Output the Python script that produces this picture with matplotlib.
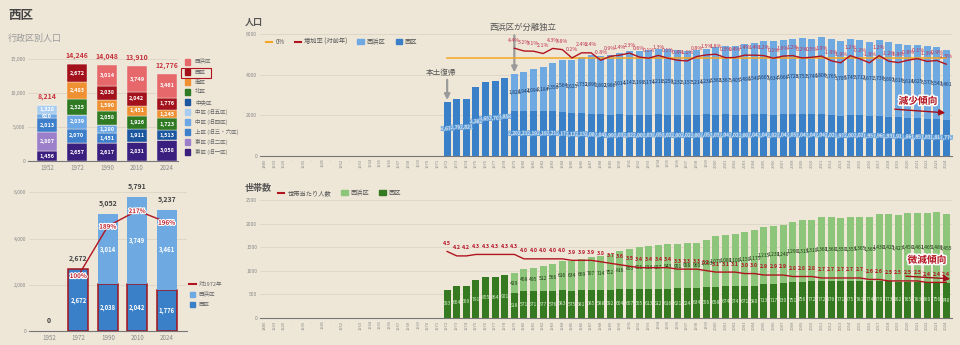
import numpy as np
import matplotlib.pyplot as plt
from matplotlib.lines import Line2D
from matplotlib.patches import Patch, Rectangle, FancyArrowPatch
import matplotlib.patheffects as pe

plt.rcParams['font.family'] = ['Noto Sans CJK JP', 'DejaVu Sans']

BG = '#eee7d8'
GRID = '#dcd5c6'
W, H = 960, 345

# ---------------- data: left charts ----------------
years_l = ['1952', '1972', '1990', '2010', '2024']
wards = ['東区 (旧一区)', '東区 (旧二区)', '上区 (旧三・六区)', '中区 (旧四区)', '中区 (旧五区)',
         '中央区', '北区', '南区', '西区', '西浜区']
pop_higashi1 = [1456, 2657, 2617, 2831, 3058]
pop_higashi2 = [2807, 0, 0, 0, 0]
pop_kami = [2013, 2070, 1451, 0, 0]
pop_naka4 = [610, 2039, 1280, 0, 0]
pop_naka5 = [1328, 0, 0, 0, 0]
pop_chuo = [0, 0, 0, 1911, 1513]
pop_kita = [0, 2325, 2058, 1926, 1723]
pop_minami = [0, 2483, 1590, 1451, 1245]
pop_nishi = [0, 2672, 2038, 2042, 1776]
pop_nishihama = [0, 0, 3014, 3749, 3461]
ratio_1972 = [100, 189, 217, 196]   # 1972, 1990, 2010, 2024

# ---------------- data: right charts ----------------
cats = ['1880', '1903', '1920', '~', '1935', '~', '1945', '~', '1952', '~'] + \
       [str(y) for y in range(1963, 2025)]
# 1972-2024
nishi_pop = [2672, 2792, 2821, 3382, 3658, 3703, 3858,
             2202, 2213, 2192, 2192, 2214, 2173, 2122, 2130, 2082, 2046, 1996,
             2038, 2027, 2000, 2030, 2056, 2027, 2003, 2020, 2004, 2059,
             2032, 2041, 2025, 2007, 2043, 2045, 2022, 2046, 2055, 2040,
             2042, 2043, 2025, 1975, 2003, 2025, 1957, 1966, 1935, 1911,
             1869, 1852, 1833, 1814, 1776]
# 1979-2024
nishihama_pop = [1826, 1944, 2094, 2184, 2350, 2564, 2625, 2731, 2896, 2892, 2986,
                 3014, 3141, 3199, 3174, 3216, 3250, 3232, 3157, 3214, 3238,
                 3360, 3367, 3405, 3499, 3540, 3605, 3634, 3666, 3726, 3753,
                 3749, 3806, 3765, 3705, 3745, 3712, 3671, 3730, 3693, 3616,
                 3614, 3625, 3573, 3543, 3461]
growth = [4.4, 3.2, 3.1, 2.1, 4.3, 3.8, 0.2, 2.4, 2.4, -0.8, 0.9,
          1.4, 2.3, 0.6, 0.1, 1.3, 0.1, -0.8, -1.1, 0.8, 1.5,
          1.8, 0.3, 0.4, 1.4, 1.4, 1.2, 0.1, 1.0, 1.2, 0.2,
          0.5, 1.0, -1.0, -1.9, 1.2, -0.2, -1.9, 1.2, -1.2, -1.8,
          -0.8, -0.1, -1.3, -0.9, -2.5]
# 1972-2024
nishi_hh = [593, 664, 669, 791, 855, 864, 901,
            518, 571, 571, 577, 576, 583, 575, 581, 585, 588, 592,
            604, 607, 605, 613, 612, 616, 621, 624, 634, 656,
            658, 674, 674, 671, 680, 713, 717, 730, 751, 756,
            772, 772, 776, 771, 775, 781, 774, 770, 773, 762,
            765, 763, 760, 756, 740]
# 1979-2024
nishihama_hh = [429, 468, 495, 512, 566, 616, 634, 669, 707, 714, 752,
                816, 855, 906, 913, 927, 943, 951, 958, 960, 1003,
                1070, 1080, 1100, 1150, 1175, 1215, 1230, 1240, 1290, 1315,
                1310, 1360, 1360, 1350, 1355, 1365, 1365, 1430, 1425, 1427,
                1450, 1461, 1465, 1480, 1455]
per_hh = [4.5, 4.2, 4.2, 4.3, 4.3, 4.3, 4.3,
          4.3, 4.0, 4.0, 4.0, 4.0, 4.0, 3.9, 3.9, 3.9, 3.8, 3.7,
          3.6, 3.5, 3.4, 3.4, 3.4, 3.4, 3.3, 3.3, 3.3, 3.2,
          3.1, 3.1, 3.1, 3.0, 3.0, 2.9, 2.9, 2.9, 2.8, 2.8,
          2.8, 2.7, 2.7, 2.7, 2.7, 2.7, 2.6, 2.6, 2.5, 2.5,
          2.5, 2.5, 2.4, 2.4, 2.4]

ward_colors = ['#3b1f7e', '#9b7fca', '#3d7fcb', '#6aa7e4', '#a9cdf0',
               '#1b56a0', '#2f7a22', '#ef9133', '#a3121c', '#e7686b']
BLUE_L, BLUE_D = '#6ea9e2', '#3a80c8'
GREEN_L, GREEN_D = '#8dc67b', '#357a20'
RED = '#b0141f'
ORANGE = '#f5a623'


def box(l, t, r, b):
    return [l / W, 1 - b / H, (r - l) / W, (b - t) / H]


def fp(x, y):
    return (x / W, 1 - y / H)


def style(ax):
    ax.set_facecolor('none')
    for s in ['top', 'right', 'left']:
        ax.spines[s].set_visible(False)
    ax.spines['bottom'].set_color('#777')
    ax.spines['bottom'].set_linewidth(0.8)
    ax.tick_params(length=0, labelsize=3.6, labelcolor='#8a8a8a', pad=2)
    ax.yaxis.grid(True, color=GRID, lw=0.6)
    ax.set_axisbelow(True)


def hide(ax):
    ax.set_yticks([])
    for s in ax.spines.values():
        s.set_visible(False)


fig = plt.figure(figsize=(9.6, 3.45), dpi=100)
fig.patch.set_facecolor(BG)
white_edge = [pe.withStroke(linewidth=1.6, foreground='white')]

fig.text(*fp(8, 16), '西区', fontsize=9, fontweight='bold', color='#444', va='center')
fig.text(*fp(8, 38), '行政区別人口', fontsize=6.5, color='#999', va='center')

# ---------------- top-left: stacked by ward ----------------
ax1 = fig.add_axes(box(28, 59, 178, 161))
style(ax1)
xl = np.arange(len(years_l))
layers = [pop_higashi1, pop_higashi2, pop_kami, pop_naka4, pop_naka5,
          pop_chuo, pop_kita, pop_minami, pop_nishi, pop_nishihama]
bottom = np.zeros(len(years_l))
for vals, col in zip(layers, ward_colors):
    vals = np.array(vals, dtype=float)
    ax1.bar(xl, vals, 0.67, bottom=bottom, color=col, edgecolor='#f4efe4', linewidth=0.3)
    for i, v in enumerate(vals):
        if v > 0:
            ax1.text(i, bottom[i] + v / 2, f'{int(v):,}', ha='center', va='center',
                     color='white', fontsize=4, fontweight='bold')
    bottom += vals
for i, t in enumerate(bottom):
    ax1.annotate(f'{int(t):,}', (i, t), xytext=(0, 4), textcoords='offset points',
                 ha='center', va='bottom', color='#c8323c', fontsize=5, fontweight='bold')
ax1.set_xlim(-0.63, 4.37)
ax1.set_ylim(0, 15000)
ax1.set_yticks([0, 5000, 10000, 15000])
ax1.set_yticklabels(['0', '5,000', '10,000', '15,000'])
ax1.set_xticks(xl)
ax1.set_xticklabels(years_l, fontsize=4.5)

# legend (top entry is 西浜区)
for k, (name, col) in enumerate(zip(wards[::-1], ward_colors[::-1])):
    yy = 62 + k * 10
    fig.patches.append(Rectangle(fp(184.5, yy + 2.6), 5.2 / W, 5.2 / H, color=col,
                                 transform=fig.transFigure, figure=fig))
    fig.text(*fp(195, yy), name, fontsize=4, color='#666', va='center')
fig.patches.append(Rectangle(fp(181, 77.5), 30 / W, 10 / H, fill=False, edgecolor='#b0141f',
                             lw=0.8, transform=fig.transFigure, figure=fig))

# ---------------- bottom-left: 西区 + 西浜区 ----------------
ax3 = fig.add_axes(box(29, 192.3, 187, 331))
style(ax3)
nb = np.array(pop_nishi, dtype=float)
nh = np.array(pop_nishihama, dtype=float)
mask = nb > 0
ax3.bar(xl[mask], nb[mask], 0.68, color=BLUE_D, edgecolor='#a3121c', linewidth=1.1)
ax3.bar(xl, nh, 0.68, bottom=nb, color=BLUE_L)
for i in range(len(xl)):
    if nb[i] > 0:
        ax3.text(i, nb[i] / 2, f'{int(nb[i]):,}', ha='center', va='center',
                 color='white', fontsize=4.3, fontweight='bold')
    if nh[i] > 0:
        ax3.text(i, nb[i] + nh[i] / 2, f'{int(nh[i]):,}', ha='center', va='center',
                 color='white', fontsize=4.3, fontweight='bold')
    tot = nb[i] + nh[i]
    ax3.annotate(f'{int(tot):,}', (i, tot), xytext=(0, 5), textcoords='offset points',
                 ha='center', va='bottom', color='#444', fontsize=5, fontweight='bold')
ax3.set_xlim(-0.68, 4.69)
ax3.set_ylim(0, 6000)
ax3.set_yticks([0, 2000, 4000, 6000])
ax3.set_yticklabels(['0', '2,000', '4,000', '6,000'])
ax3.set_xticks(xl)
ax3.set_xticklabels(years_l, fontsize=4.5)
ax3b = ax3.twinx()
hide(ax3b)
ax3b.set_ylim(0, 250)
ax3b.plot(xl[1:], ratio_1972, color=RED, lw=1)
for i, r in zip(xl[1:], ratio_1972):
    ax3b.text(i, r, f'{r}%', ha='center', va='center', color='#c0202a', fontsize=4.5,
              fontweight='bold', path_effects=white_edge)

fig.add_artist(Line2D([189 / W, 196 / W], [1 - 284.3 / H] * 2, color=RED, lw=1.5))
fig.text(*fp(199, 284.3), '対1972年', fontsize=4, color='#666', va='center')
for yy, name, col in [(294.3, '西浜区', BLUE_L), (304.3, '西区', BLUE_D)]:
    fig.patches.append(Rectangle(fp(190, yy + 2.6), 5.2 / W, 5.2 / H, color=col,
                                 transform=fig.transFigure, figure=fig))
    fig.text(*fp(199, yy), name, fontsize=4, color='#666', va='center')

# ---------------- right charts ----------------
x = np.arange(len(cats))
i72 = cats.index('1972')
i79 = cats.index('1979')

nishi_full = np.zeros(len(cats))
nishi_full[i72:] = nishi_pop
hama_full = np.zeros(len(cats))
hama_full[i79:] = nishihama_pop

fig.text(*fp(245, 22), '人口', fontsize=6.5, fontweight='bold', color='#555', va='center')
axT = fig.add_axes(box(260, 34.3, 952, 155.7))
style(axT)
axT.bar(x, nishi_full, 0.72, color=BLUE_D)
axT.bar(x, hama_full, 0.72, bottom=nishi_full, color=BLUE_L)
for i in range(i72, len(cats)):
    axT.text(i, nishi_full[i] / 2, f'{int(nishi_full[i]):,}', ha='center', va='center',
             color='white', fontsize=3.6,
             path_effects=[pe.withStroke(linewidth=1, foreground='#6aa2d8')])
    if hama_full[i] > 0:
        axT.text(i, nishi_full[i] + hama_full[i] / 2, f'{int(hama_full[i]):,}', ha='center',
                 va='center', color='#1d3a66', fontsize=3.6)
axT.set_xlim(-0.5, 71.6)
axT.set_ylim(0, 6000)
axT.set_yticks([0, 2000, 4000, 6000])
axT.set_xticks(x)
axT.set_xticklabels(cats, rotation=90, fontsize=3)
axT2 = axT.twinx()
hide(axT2)
axT2.set_ylim(-42, 10.4)
axT2.plot(x[i72:], np.zeros(len(x[i72:])), color=ORANGE, lw=1.1)
axT2.plot(x[i79:], growth, color=RED, lw=1)
for i, g in zip(x[i79:], growth):
    axT2.annotate(f'{g:.1f}%', (i, g), xytext=(0, 4), textcoords='offset points',
                  ha='center', va='bottom', color='#c03050', fontsize=3.8)

axT.legend(handles=[Line2D([0], [0], color=ORANGE, lw=1.5), Line2D([0], [0], color=RED, lw=1.5),
                    Patch(color=BLUE_L), Patch(color=BLUE_D)],
           labels=['0%', '増加率 (対前年)', '西浜区', '西区'], ncol=4, loc='center left',
           bbox_to_anchor=fp(263, 42), bbox_transform=fig.transFigure, frameon=False,
           fontsize=4.5, handlelength=1.0, handleheight=0.8, handletextpad=0.5,
           columnspacing=1.6, borderpad=0, labelcolor='#555')

fig.text(*fp(441, 73), '本土復帰', fontsize=5.5, color='#555', ha='center', va='center')
axT.annotate('', xy=(i72, 2750), xytext=(i72, 3750),
             arrowprops=dict(arrowstyle='-|>', color='#9a9a9a', lw=1.6, mutation_scale=8,
                             shrinkA=0, shrinkB=0))
fig.text(*fp(523, 27), '西浜区が分離独立', fontsize=6, color='#555', ha='center', va='center')
axT.annotate('', xy=(i79, 4120), xytext=(i79, 5950), annotation_clip=False,
             arrowprops=dict(arrowstyle='-|>', color='#9a9a9a', lw=1.6, mutation_scale=8,
                             shrinkA=0, shrinkB=0))
fig.text(*fp(918, 101), '減少傾向', fontsize=7, fontweight='bold', color='#b3121e',
         ha='center', va='center', path_effects=[pe.withStroke(linewidth=2.2, foreground='white')])
fig.add_artist(FancyArrowPatch(fp(892, 109), fp(948, 113), transform=fig.transFigure,
                               arrowstyle='-|>', mutation_scale=9, color='#a3101c', lw=1))

# households
hb = np.zeros(len(cats))
hb[i72:] = nishi_hh
hh = np.zeros(len(cats))
hh[i79:] = nishihama_hh

fig.text(*fp(245, 188), '世帯数', fontsize=6.5, fontweight='bold', color='#555', va='center')
axB = fig.add_axes(box(260, 200, 952, 317.7))
style(axB)
axB.bar(x, hb, 0.72, color=GREEN_D)
axB.bar(x, hh, 0.72, bottom=hb, color=GREEN_L)
for i in range(i72, len(cats)):
    axB.text(i, hb[i] / 2, f'{int(hb[i])}', ha='center', va='center', color='#dcefd2', fontsize=3.6)
    if hh[i] > 0:
        axB.text(i, hb[i] + hh[i] / 2, f'{int(hh[i]):,}', ha='center', va='center',
                 color='#1f3a12', fontsize=3.6)
axB.set_xlim(-0.5, 71.6)
axB.set_ylim(0, 2500)
axB.set_yticks([0, 500, 1000, 1500, 2000, 2500])
axB.set_xticks(x)
axB.set_xticklabels(cats, rotation=90, fontsize=3)
axB2 = axB.twinx()
hide(axB2)
axB2.set_ylim(0, 8)
axB2.plot(x[i72:], per_hh, color=RED, lw=1)
for i, p in zip(x[i72:], per_hh):
    axB2.annotate(f'{p:.1f}', (i, p), xytext=(0, 4), textcoords='offset points',
                  ha='center', va='bottom', color='#b8142a', fontsize=3.8, fontweight='bold')

axB.legend(handles=[Line2D([0], [0], color=RED, lw=1.5), Patch(color=GREEN_L), Patch(color=GREEN_D)],
           labels=['世帯当たり人数', '西浜区', '西区'], ncol=3, loc='center left',
           bbox_to_anchor=fp(275, 193), bbox_transform=fig.transFigure, frameon=False,
           fontsize=4.5, handlelength=1.0, handleheight=0.8, handletextpad=0.5,
           columnspacing=1.6, borderpad=0, labelcolor='#555')

fig.text(*fp(927, 260), '微減傾向', fontsize=7, fontweight='bold', color='#b3121e',
         ha='center', va='center', path_effects=[pe.withStroke(linewidth=2.2, foreground='white')])
fig.add_artist(FancyArrowPatch(fp(903, 276), fp(953, 279), transform=fig.transFigure,
                               arrowstyle='-|>', mutation_scale=9, color='#a3101c', lw=1))

fig.savefig('out.png', dpi=100, facecolor=BG)
